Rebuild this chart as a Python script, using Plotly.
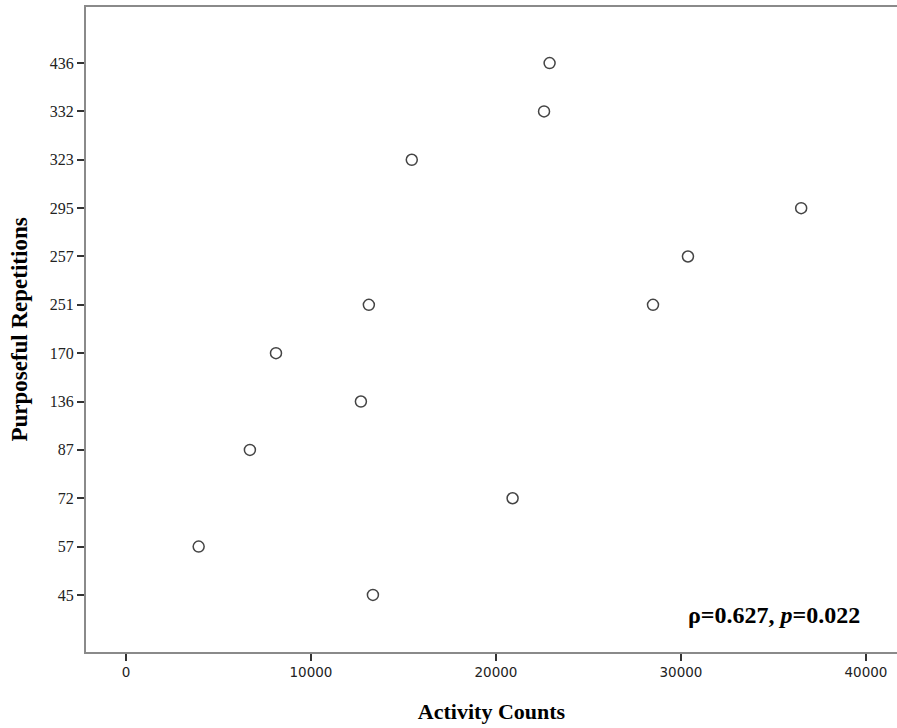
import plotly.graph_objects as go

# Y axis categories (ordinal positions, bottom to top)
rep_categories = ["45", "57", "72", "87", "136", "170", "251", "257", "295", "323", "332", "436"]

# Data points
activity_counts = [22900, 22600, 15450, 36500, 30380, 13130, 28490, 8110, 12700, 6700, 20900, 3930, 13350]
purposeful_reps = ["436", "332", "323", "295", "257", "251", "251", "170", "136", "87", "72", "57", "45"]

x_ticks = [0, 10000, 20000, 30000, 40000]

y_pos = [rep_categories.index(v) for v in purposeful_reps]

fig = go.Figure()
fig.add_trace(go.Scatter(
    x=activity_counts, y=y_pos, mode="markers",
    marker=dict(symbol="circle-open", size=11, color="#444444", line=dict(width=1.5, color="#444444")),
    showlegend=False, hoverinfo="skip",
))

fig.update_layout(
    width=897, height=728,
    margin=dict(l=86, r=0, t=7, b=76),
    paper_bgcolor="white", plot_bgcolor="white",
    xaxis=dict(
        range=[-2160, 41680], tickvals=x_ticks, ticktext=[str(v) for v in x_ticks],
        showgrid=False, zeroline=False, showline=True, linecolor="#8a8a8a", linewidth=2, mirror=True,
        ticks="outside", ticklen=7, tickwidth=1.5, tickcolor="#333333",
        tickfont=dict(family="DejaVu Sans", size=13.5, color="#222222"),
        title=dict(text="<b>Activity Counts</b>", font=dict(family="Liberation Serif", size=22, color="black"), standoff=24),
    ),
    yaxis=dict(
        range=[-1.18, 12.16], tickvals=list(range(len(rep_categories))), ticktext=rep_categories,
        showgrid=False, zeroline=False, showline=True, linecolor="#8a8a8a", linewidth=2,
        ticks="outside", ticklen=7, tickwidth=1.5, tickcolor="#333333",
        tickfont=dict(family="Liberation Serif", size=16, color="#222222"),
        title=dict(text="<b>Purposeful Repetitions</b>", font=dict(family="Liberation Serif", size=23, color="black"), standoff=16),
    ),
    annotations=[dict(
        text="<b>ρ=0.627, <i>p</i>=0.022</b>", xref="paper", yref="paper",
        x=(862 - 86) / (897 - 86), y=(652 - 615) / (652 - 7), xanchor="right", yanchor="middle",
        showarrow=False, font=dict(family="Liberation Serif", size=24, color="black"),
    )],
)

fig.write_html("out.html", config={"displayModeBar": False})

# remove default page margin so the figure sits at the window's top-left corner
with open("out.html", encoding="utf-8") as f:
    html = f.read()
html = html.replace("<body>", '<body style="margin:0;padding:0;">', 1)
with open("out.html", "w", encoding="utf-8") as f:
    f.write(html)
